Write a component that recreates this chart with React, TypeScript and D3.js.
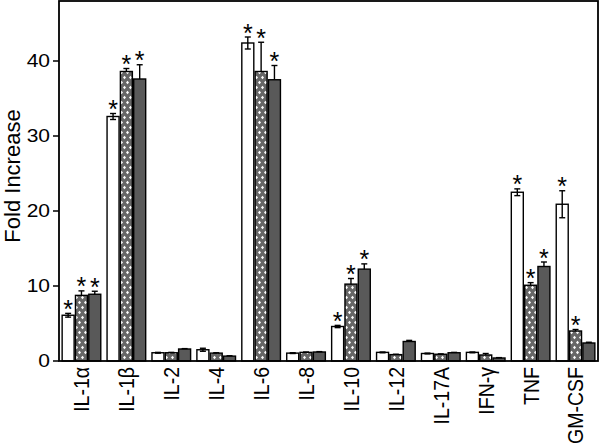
import React from 'react';
import * as d3 from 'd3';

// cytokines on the x axis
const categories = ['IL-1α', 'IL-1β', 'IL-2', 'IL-4', 'IL-6', 'IL-8', 'IL-10', 'IL-12', 'IL-17A', 'IFN-γ', 'TNF', 'GM-CSF'];
const seriesNames = ['open', 'checked', 'dark'];

// fold increase
const openMeans = [6.1, 32.6, 1.1, 1.5, 42.4, 1.05, 4.6, 1.15, 1.0, 1.15, 22.5, 20.9];
const openErr = [0.25, 0.4, 0.05, 0.2, 0.8, 0.05, 0.15, 0.05, 0.05, 0.05, 0.45, 1.8];
const checkedMeans = [8.75, 38.6, 1.1, 1.05, 38.6, 1.15, 10.25, 0.85, 0.9, 0.8, 10.1, 4.0];
const checkedErr = [0.6, 0.4, 0.05, 0.05, 3.9, 0.05, 0.75, 0.05, 0.05, 0.2, 0.35, 0.2];
const darkMeans = [8.9, 37.6, 1.6, 0.65, 37.5, 1.2, 12.25, 2.6, 1.1, 0.4, 12.6, 2.4];
const darkErr = [0.4, 1.9, 0.05, 0.05, 1.9, 0.05, 0.7, 0.15, 0.05, 0.05, 0.6, 0.1];

// significance markers (1 = asterisk)
const openSig = [1, 1, 0, 0, 1, 0, 1, 0, 0, 0, 1, 1];
const checkedSig = [1, 1, 0, 0, 1, 0, 1, 0, 0, 0, 1, 1];
const darkSig = [1, 1, 0, 0, 1, 0, 1, 0, 0, 0, 1, 0];

const yTicks = [0, 10, 20, 30, 40];

const W = 600;
const H = 446;
const left = 59;
const right = 598;
const top = 1;
const bottom = 361;
const font = 'Liberation Sans, Arial, sans-serif';

const App = () => {
  const x0 = d3.scaleBand<string>()
    .domain(categories)
    .range([left, right])
    .paddingInner(0.14)
    .paddingOuter(0.07);

  const x1 = d3.scaleBand<string>()
    .domain(seriesNames)
    .range([0, x0.bandwidth()])
    .paddingInner(0.1);

  const y = d3.scaleLinear().domain([0, 48]).range([bottom, top]);

  const series = [
    { name: 'open', means: openMeans, err: openErr, sig: openSig, fill: '#ffffff', both: true },
    { name: 'checked', means: checkedMeans, err: checkedErr, sig: checkedSig, fill: 'url(#checks)', both: false },
    { name: 'dark', means: darkMeans, err: darkErr, sig: darkSig, fill: '#595959', both: false },
  ];

  const bw = x1.bandwidth();

  return (
    <svg width={W} height={H} style={{ position: 'absolute', left: 0, top: 0 }} fontFamily={font}>
      <defs>
        <pattern id="checks" patternUnits="userSpaceOnUse" width="6" height="10">
          <rect width="6" height="10" fill="#666666" />
          <path d="M1.5,0.8 L3,2.5 L1.5,4.2 L0,2.5 Z M4.5,5.8 L6,7.5 L4.5,9.2 L3,7.5 Z" fill="#ffffff" />
        </pattern>
      </defs>
      <rect width={W} height={H} fill="#fff" />

      {series.map((s) => (
        <g key={s.name}>
          {categories.map((c, i) => {
            const bx = (x0(c) ?? 0) + (x1(s.name) ?? 0);
            const cx = bx + bw / 2;
            const yTop = y(s.means[i]);
            const yErr = y(s.means[i] + s.err[i]);
            const yLow = y(s.means[i] - s.err[i]);
            return (
              <g key={c}>
                <rect x={bx} y={yTop} width={bw} height={bottom - yTop}
                  fill={s.fill} stroke="#000" strokeWidth={1.4} />
                <line x1={cx} x2={cx} y1={s.both ? yLow : yTop} y2={yErr} stroke="#000" strokeWidth={1.4} />
                <line x1={cx - 3} x2={cx + 3} y1={yErr} y2={yErr} stroke="#000" strokeWidth={1.4} />
                {s.both && (
                  <line x1={cx - 3} x2={cx + 3} y1={yLow} y2={yLow} stroke="#000" strokeWidth={1.4} />
                )}
                {s.sig[i] === 1 && (
                  <text x={cx} y={yErr + 4.5} textAnchor="middle" fontSize={25} fill="#000">*</text>
                )}
              </g>
            );
          })}
        </g>
      ))}

      {/* frame */}
      <rect x={left} y={top} width={right - left} height={bottom - top}
        fill="none" stroke="#000" strokeWidth={1.8} />

      {/* y axis ticks */}
      {yTicks.map((t) => (
        <g key={t}>
          <line x1={left - 6} x2={left} y1={y(t)} y2={y(t)} stroke="#000" strokeWidth={1.5} />
          <text transform={`translate(50,${y(t)}) scale(1.2,1)`} textAnchor="end" dy="0.36em"
            fontSize={17.5} fill="#000">{t}</text>
        </g>
      ))}

      {/* x labels */}
      {categories.map((c) => (
        <text key={c}
          transform={`translate(${(x0(c) ?? 0) + x0.bandwidth() / 2},367) scale(1.13,1) rotate(-90)`}
          textAnchor="end" dy="0.36em" fontSize={19.5} fill="#000">{c}</text>
      ))}

      <text transform="translate(12,176) rotate(-90)" textAnchor="middle" dy="0.36em"
        fontSize={22} fill="#000">Fold Increase</text>
    </svg>
  );
};

export default App;
